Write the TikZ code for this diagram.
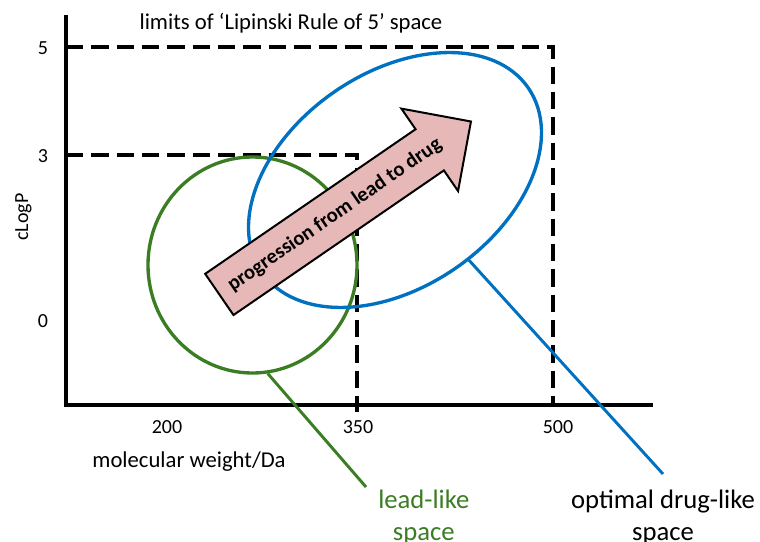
\documentclass[tikz,border=0pt]{standalone}
\usepackage{fontspec}
\setmainfont{Carlito}
\usetikzlibrary{shapes.geometric, shapes.arrows}

\definecolor{leadgreen}{HTML}{3B7D23}
\definecolor{drugblue}{HTML}{0070C0}
\definecolor{progpink}{HTML}{E6B9B8}

\begin{document}
\begin{tikzpicture}[
    x=0.75pt, y=-0.75pt,
    % Styles
    axis/.style={line width=2.6pt, line join=miter},
    limitline/.style={line width=3pt, dash pattern=on 13pt off 6pt},
    ticklabel/.style={font=\fontsize{15}{18}\selectfont, inner sep=0pt, anchor=base},
    axislabel/.style={font=\fontsize{17}{20}\selectfont, inner sep=0pt, anchor=base},
    spacebox/.style={ellipse, draw, line width=2.5pt, inner sep=0pt},
    spacelabel/.style={font=\fontsize{20}{24}\selectfont, align=center},
    pointer/.style={line width=2.2pt},
    progarrow/.style={single arrow, draw=black, line width=1.5pt, fill=progpink, single arrow head extend=18.75pt, minimum height=229pt, text height=12pt, text depth=4pt, inner ysep=10pt, inner xsep=0pt, font=\fontsize{15.5}{18}\selectfont\bfseries}
]

\useasboundingbox (0,0) rectangle (760,542);

% Axes
\coordinate (origin) at (66,405);
\coordinate (ytop) at (66,15);
\coordinate (xend) at (653,405);
\draw[axis] (ytop) -- (origin) -- (xend);

% Rule of 5 limits
\draw[limitline] (66,47) -- (553,47) -- (553,405);
\draw[limitline] (66,155) -- (357,155) -- (357,412);

% Axis labels
\node[axislabel] (title) at (291,30) {limits of ‘Lipinski Rule of 5’ space};
\node[ticklabel] (y5) at (43,55) {5};
\node[ticklabel] (y3) at (43,162) {3};
\node[ticklabel] (y0) at (43,327) {0};
\node[ticklabel, rotate=90] (ylabel) at (28,217) {cLogP};
\node[ticklabel] (x200) at (167,433) {200};
\node[ticklabel] (x350) at (358,433) {350};
\node[ticklabel] (x500) at (558,433) {500};
\node[axislabel] (xlabel) at (189,467) {molecular weight/Da};

% Chemical spaces
\node[spacebox, draw=leadgreen, minimum width=156.75pt, minimum height=162pt] (lead) at (252.5,265) {};
\node[spacebox, draw=drugblue, rotate=34.7, minimum width=243pt, minimum height=160.5pt] (drug) at (395,180) {};

% Space names
\node[spacelabel, text=leadgreen, anchor=north west, inner xsep=9pt, inner ysep=2pt] (leadname) at (366,487) {lead-like\\space};
\node[spacelabel, anchor=north, inner ysep=12pt] (drugname) at (663,474) {optimal drug-like\\space};
\draw[pointer, leadgreen] (lead.-82) -- (leadname.north west);
\draw[pointer, drugblue] (drug.-82) -- (drugname.north);

% Progression arrow
\node[progarrow, rotate=34.5, anchor=tail] (prog) at (218.5,295) {progression from lead to drug};

\end{tikzpicture}
\end{document}
